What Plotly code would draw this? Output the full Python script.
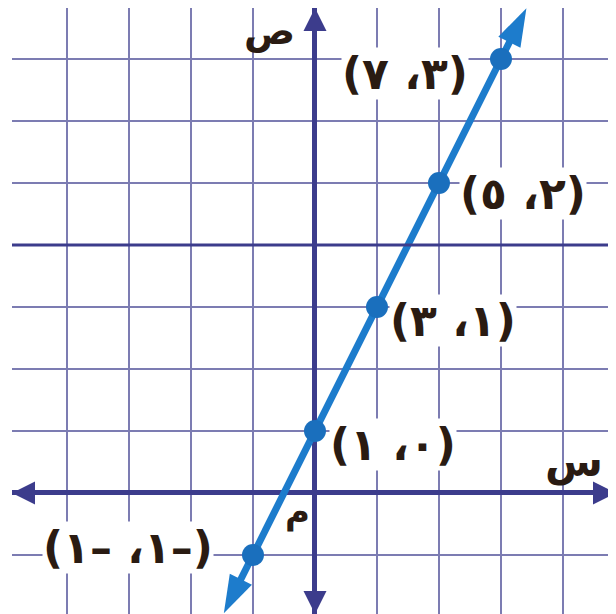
import math
import plotly.graph_objects as go

# ---- data ----
point_x = [-1, 0, 1, 2, 3]
point_y = [-1, 1, 3, 5, 7]
# labels in visual (left-to-right) order, as printed
point_labels = ["(١– ،١–)", "(١ ،٠)", "(٣ ،١)", "(٥ ،٢)", "(٧ ،٣)"]
arrow_tip_x = [-1.47, 3.41]
arrow_tip_y = [-1.94, 7.82]
line_end_x = [-1.31, 3.25]
line_end_y = [-1.62, 7.50]
axis_labels = ["ص", "س", "م"]
x_range = [-4.887, 4.855]
y_range = [-1.952, 7.823]

# ---- styles / layout helpers ----
# the page body has an 8px margin, so the figure is 8px smaller than the window
W, H = 608, 606
ML, MT = 4, 0
BLUE = "#1d7ccc"
BLUE_DOT = "#1a6fbd"
NAVY = "#3c3c8c"
GRID = "#7c7cb2"
TXT = "#2a1b12"
label_shift = [(-125, 7), (78, -14), (76, -13), (84, -10), (-96, -14)]
# (x, y, size, yanchor)
axis_label_pos = [(-0.74, y_range[1], 38, "top"), (4.17, 0.5, 42, "middle"),
                  (-0.28, -0.3, 34, "middle")]

px_x = (W - ML) / (x_range[1] - x_range[0])
px_y = (H - MT) / (y_range[1] - y_range[0])
angles = []
for tx, ty, lx, ly in zip(arrow_tip_x, arrow_tip_y, line_end_x, line_end_y):
    angles.append(math.degrees(math.atan2((tx - lx) * px_x, (ty - ly) * px_y)))

fig = go.Figure()

# main line (between arrow bases, through the points)
fig.add_trace(go.Scatter(
    x=[line_end_x[0]] + point_x + [line_end_x[1]],
    y=[line_end_y[0]] + point_y + [line_end_y[1]],
    mode="lines", line=dict(color=BLUE, width=7),
    hoverinfo="skip", showlegend=False))

# arrow heads of the main line
fig.add_trace(go.Scatter(
    x=arrow_tip_x, y=arrow_tip_y, mode="markers",
    marker=dict(symbol="arrow", size=40, angle=angles, color=BLUE,
                line=dict(width=0)),
    hoverinfo="skip", showlegend=False))

# points
fig.add_trace(go.Scatter(
    x=point_x, y=point_y, mode="markers",
    marker=dict(size=22, color=BLUE_DOT, line=dict(width=0)),
    hoverinfo="skip", showlegend=False))

# axis arrow heads
fig.add_trace(go.Scatter(
    x=[x_range[0], x_range[1], 0, 0],
    y=[0, 0, y_range[1], y_range[0]],
    mode="markers",
    marker=dict(symbol=["arrow-left", "arrow-right", "arrow-up", "arrow-down"],
                size=23, color=NAVY, line=dict(width=0)),
    cliponaxis=False, hoverinfo="skip", showlegend=False))

annotations = []
for x, y, t, (dx, dy) in zip(point_x, point_y, point_labels, label_shift):
    annotations.append(dict(
        x=x, y=y, xref="x", yref="y", text="\u202d" + t + "\u202c",
        showarrow=False, xshift=dx, yshift=dy, bgcolor="white", borderpad=0,
        font=dict(family="DejaVu Sans", size=44, color=TXT, weight="bold")))
for t, (x, y, s, ya) in zip(axis_labels, axis_label_pos):
    annotations.append(dict(
        x=x, y=y, xref="x", yref="y", text=t, showarrow=False, yanchor=ya,
        borderpad=0,
        font=dict(family="DejaVu Sans", size=s, color=TXT, weight="bold")))

fig.update_layout(
    width=W, height=H,
    margin=dict(l=ML, r=0, t=MT, b=0),
    paper_bgcolor="white", plot_bgcolor="white",
    annotations=annotations,
    shapes=[dict(type="line", xref="paper", x0=0, x1=1, yref="y", y0=4, y1=4,
                 line=dict(color=NAVY, width=3), layer="above")],
    xaxis=dict(range=x_range, dtick=1, tick0=0, showticklabels=False,
               ticks="", showgrid=True, gridcolor=GRID, gridwidth=2,
               zeroline=True, zerolinecolor=NAVY, zerolinewidth=5,
               showline=False, fixedrange=True),
    yaxis=dict(range=y_range, dtick=1, tick0=0, showticklabels=False,
               ticks="", showgrid=True, gridcolor=GRID, gridwidth=2,
               zeroline=True, zerolinecolor=NAVY, zerolinewidth=5,
               showline=False, fixedrange=True),
)

fig.write_html("out.html")
